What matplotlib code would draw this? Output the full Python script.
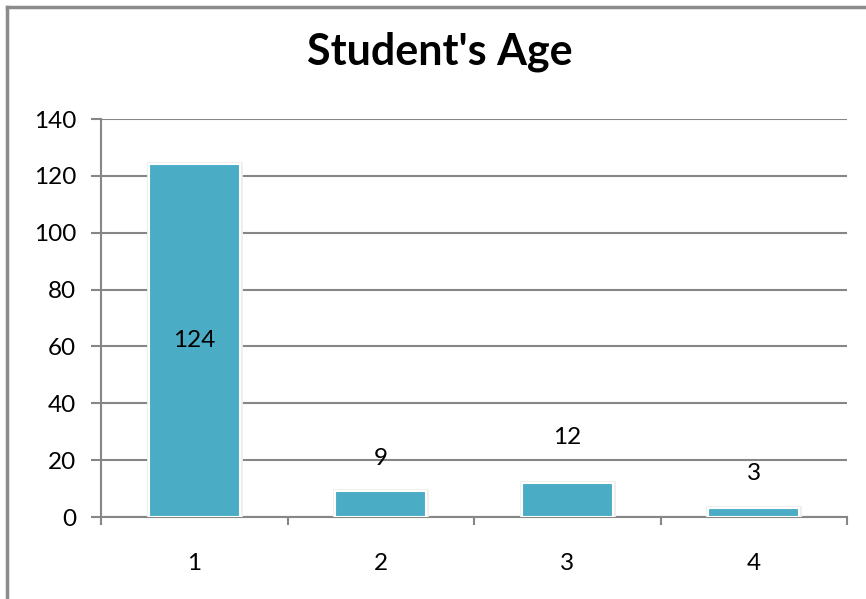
import matplotlib
matplotlib.use("Agg")
import matplotlib.pyplot as plt
import matplotlib.patheffects as pe
from matplotlib.lines import Line2D

plt.rcParams["font.family"] = ["Lato", "DejaVu Sans"]

# data
categories = ["1", "2", "3", "4"]
counts = [124, 9, 12, 3]
title = "Student's Age"
y_ticks = [0, 20, 40, 60, 80, 100, 120, 140]

bar_color = "#4BACC6"
grid_color = "#868686"

fig = plt.figure(figsize=(8.66, 5.99), dpi=100)
ax = fig.add_axes([101 / 866, 1 - 517 / 599, 746 / 866, 398 / 599])

x = list(range(len(categories)))
bars = ax.bar(x, counts, width=0.49, color=bar_color, edgecolor="white",
              linewidth=1.5, zorder=3)
for b in bars:
    b.set_path_effects([pe.Stroke(linewidth=3.5, foreground="#eeeeee"), pe.Normal()])

# value labels: tall bar gets its label in the middle, the others above
above_offsets = [0, 33, 45, 35]  # pixels above the bar top
for xi, v, off in zip(x, counts, above_offsets):
    if v > 100:
        ax.text(xi, v / 2, str(v), ha="center", va="center", fontsize=17.5, zorder=4)
    else:
        ax.annotate(str(v), (xi, v), xytext=(0, off * 0.72), textcoords="offset points",
                    ha="center", va="center", fontsize=17.5, zorder=4)

ax.set_xlim(-0.5, len(categories) - 0.5)
ax.set_ylim(0, 140)
ax.set_yticks(y_ticks)
ax.yaxis.grid(True, color=grid_color, linewidth=1.5, zorder=0)
ax.set_axisbelow(True)

ax.set_xticks(x)
ax.set_xticklabels(categories, fontsize=17.5)
ax.tick_params(axis="x", length=0, pad=26)
ax.set_xticks([i - 0.5 for i in range(len(categories) + 1)], minor=True)
ax.tick_params(axis="x", which="minor", length=6, width=1.5, color=grid_color, direction="out")
ax.tick_params(axis="y", length=7, width=1.5, color=grid_color, labelsize=17.5, pad=11)

for s in ["top", "right"]:
    ax.spines[s].set_visible(False)
for s in ["left", "bottom"]:
    ax.spines[s].set_color(grid_color)
    ax.spines[s].set_linewidth(1.5)

# title centred on the chart area, not the plot area
fig.text(440 / 866, 1 - 65 / 599, title, ha="center", va="baseline",
         fontsize=31, fontweight="bold")

# chart area border (left and top edges visible)
fig.add_artist(Line2D([7 / 866, 7 / 866], [0, 1 - 7 / 599], color="#8c8c8c", linewidth=2.5))
fig.add_artist(Line2D([7 / 866, 1], [1 - 7 / 599, 1 - 7 / 599], color="#8c8c8c", linewidth=2.5))

plt.savefig("out.png", dpi=100)
plt.close()
